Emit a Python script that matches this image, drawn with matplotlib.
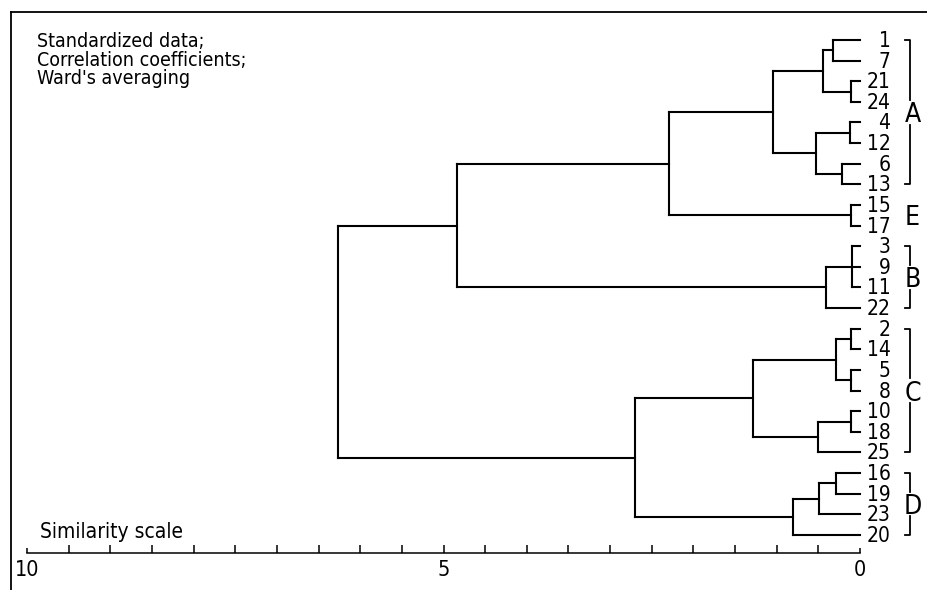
import matplotlib
matplotlib.use('Agg')
import matplotlib.pyplot as plt
from matplotlib import font_manager
from matplotlib.lines import Line2D
from matplotlib.ticker import FixedLocator, FuncFormatter

# leaf order from top to bottom
leaves = ['1', '7', '21', '24', '4', '12', '6', '13', '15', '17',
          '3', '9', '11', '22', '2', '14', '5', '8', '10', '18', '25',
          '16', '19', '23', '20']

# merges (name, members, similarity level where they join)
node_names = ['a1', 'a2', 'a12', 'a3', 'a4', 'a34', 'A', 'E', 'AE',
              'b1', 'B', 'AEB', 'c1', 'c2', 'c12', 'c3', 'c34', 'C',
              'd1', 'd2', 'D', 'CD', 'root']
node_children = [['1', '7'], ['21', '24'], ['a1', 'a2'], ['4', '12'],
                 ['6', '13'], ['a3', 'a4'], ['a12', 'a34'], ['15', '17'],
                 ['A', 'E'], ['3', '9', '11'], ['b1', '22'], ['AE', 'B'],
                 ['2', '14'], ['5', '8'], ['c1', 'c2'], ['10', '18'],
                 ['c3', '25'], ['c12', 'c34'], ['16', '19'], ['d1', '23'],
                 ['d2', '20'], ['C', 'D'], ['AEB', 'CD']]
node_levels = [0.32, 0.11, 0.44, 0.12, 0.22, 0.53, 1.04, 0.11, 2.29,
               0.10, 0.41, 4.84, 0.11, 0.11, 0.29, 0.11, 0.50, 1.28,
               0.29, 0.49, 0.80, 2.70, 6.27]

groups = ['A', 'E', 'B', 'C', 'D']
group_first = ['1', '15', '3', '2', '16']
group_last = ['13', '17', '22', '25', '20']
group_bracket = [True, False, True, True, True]

notes = ['Standardized data;', 'Correlation coefficients;', "Ward's averaging"]

# pick a narrow font if there is one
fonts = {(f.name, f.stretch) for f in font_manager.fontManager.ttflist}
fam, stretch = 'DejaVu Sans', 'normal'
if ('DejaVu Sans', 'condensed') in fonts or ('DejaVu Sans', 'semi-condensed') in fonts:
    stretch = 'condensed'
elif any(n == 'Liberation Sans Narrow' for n, s in fonts):
    fam = 'Liberation Sans Narrow'
plt.rcParams['font.family'] = fam
plt.rcParams['font.stretch'] = stretch

W, H = 927, 590
fig = plt.figure(figsize=(W / 100, H / 100), dpi=100)
ax = fig.add_axes([0, 37 / H, 1, 553 / H])
ax.set_xlim(10.324, -0.804)
ax.set_ylim(24.873, -1.939)

lw = 1.5
ypos = {lab: float(i) for i, lab in enumerate(leaves)}
xpos = {lab: 0.0 for lab in leaves}
for name, kids, lev in zip(node_names, node_children, node_levels):
    ys = [ypos[k] for k in kids]
    for k in kids:
        ax.plot([lev, xpos[k]], [ypos[k], ypos[k]], color='black', lw=lw,
                solid_capstyle='projecting')
    ax.plot([lev, lev], [min(ys), max(ys)], color='black', lw=lw,
            solid_capstyle='projecting')
    ypos[name] = sum(ys) / len(ys)
    xpos[name] = lev

for lab in leaves:
    ax.text(-0.365, ypos[lab] - 0.05, lab, ha='right', va='center_baseline',
            fontsize=15)

# group letters and brackets
bx, hook, gap = -0.60, 0.065, 0.6
for g, first, last, br in zip(groups, group_first, group_last, group_bracket):
    y0, y1 = ypos[first], ypos[last]
    yc = (y0 + y1) / 2
    ax.text(-0.63, yc, g, ha='center', va='center_baseline', fontsize=19)
    if br:
        ax.plot([bx + hook, bx, bx], [y0, y0, yc - gap], color='black', lw=1.3)
        ax.plot([bx, bx, bx + hook], [yc + gap, y1, y1], color='black', lw=1.3)

# similarity scale along the bottom spine
for s in ['left', 'right', 'top']:
    ax.spines[s].set_visible(False)
ax.spines['bottom'].set_bounds(0, 10)
ax.spines['bottom'].set_linewidth(1.1)
ax.yaxis.set_visible(False)
ax.xaxis.set_major_locator(FixedLocator([i / 2 for i in range(1, 20)]))
ax.xaxis.set_minor_locator(FixedLocator([0, 10]))
ax.xaxis.set_major_formatter(FuncFormatter(lambda v, p: '5' if v == 5 else ''))
ax.xaxis.set_minor_formatter(FuncFormatter(lambda v, p: '%d' % v))
ax.tick_params(axis='x', which='both', direction='in', width=1.1,
               labelsize=15.5, pad=5)
ax.tick_params(axis='x', which='major', length=6)
ax.tick_params(axis='x', which='minor', length=3.5)
ax.patch.set_visible(False)

fig.text(40 / W, 1 - 538 / H, 'Similarity scale', va='baseline', fontsize=15)
for i, t in enumerate(notes):
    fig.text(37 / W, 1 - (47 + 18.7 * i) / H, t, va='baseline', fontsize=14)

# frame
fig.add_artist(Line2D([10.5 / W, 10.5 / W], [0, 1 - 12 / H], color='black',
                      lw=1.3, transform=fig.transFigure))
fig.add_artist(Line2D([10.5 / W, 1], [1 - 12 / H, 1 - 12 / H], color='black',
                      lw=1.3, transform=fig.transFigure))

fig.savefig('out.png', dpi=100)
